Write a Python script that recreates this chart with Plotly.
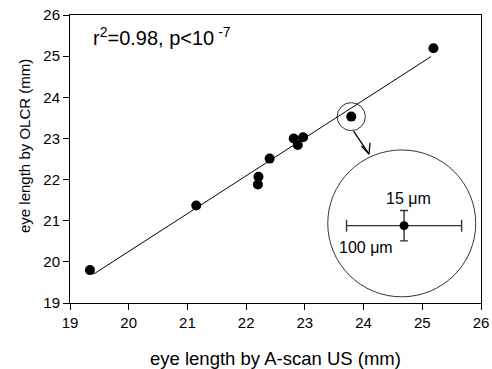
import plotly.graph_objects as go

# data
us_mm = [19.34, 21.15, 22.21, 22.20, 22.40, 22.81, 22.88, 22.97, 23.79, 25.19]
olcr_mm = [19.80, 21.37, 22.07, 21.88, 22.51, 23.00, 22.84, 23.03, 23.53, 25.19]
fit_x = [19.40, 25.15]
fit_y = [19.70, 24.99]
inset_x = [24.69]
inset_y = [20.88]
inset_err_x = [0.98]
inset_err_y = [0.37]
x_ticks = [19, 20, 21, 22, 23, 24, 25, 26]
y_ticks = [19, 20, 21, 22, 23, 24, 25, 26]

FONT = "Liberation Sans, Arial, sans-serif"

fig = go.Figure()
fig.add_trace(go.Scatter(x=fit_x, y=fit_y, mode="lines",
                         line=dict(color="black", width=1), showlegend=False))
fig.add_trace(go.Scatter(x=us_mm, y=olcr_mm, mode="markers",
                         marker=dict(color="black", size=10), showlegend=False))
fig.add_trace(go.Scatter(x=inset_x, y=inset_y, mode="markers",
                         marker=dict(color="black", size=9),
                         error_x=dict(type="data", array=inset_err_x, color="#333", thickness=1.4, width=6),
                         error_y=dict(type="data", array=inset_err_y, color="#333", thickness=1.4, width=4),
                         showlegend=False))

# highlight circle and zoom circle
fig.add_shape(type="circle", xref="x", yref="y", x0=23.55, x1=24.03, y0=23.19, y1=23.87,
              line=dict(color="black", width=0.8))
fig.add_shape(type="circle", xref="x", yref="y", x0=23.39, x1=25.91, y0=19.15, y1=22.72,
              line=dict(color="black", width=0.8))
# arrow (open V head)
fig.add_shape(type="line", xref="x", yref="y", x0=23.83, y0=23.18, x1=24.093, y1=22.62,
              line=dict(color="black", width=1.3))
fig.add_shape(type="line", xref="x", yref="y", x0=23.963, y0=22.816, x1=24.093, y1=22.62,
              line=dict(color="black", width=1.3))
fig.add_shape(type="line", xref="x", yref="y", x0=24.11, y0=22.896, x1=24.093, y1=22.62,
              line=dict(color="black", width=1.3))

fig.add_annotation(x=24.76, y=21.55, xref="x", yref="y", text="15 \u03bcm", showarrow=False,
                   font=dict(family=FONT, size=16, color="black"))
fig.add_annotation(x=24.04, y=20.36, xref="x", yref="y", text="100 \u03bcm", showarrow=False,
                   font=dict(family=FONT, size=16, color="black"))
fig.add_annotation(x=19.36, y=25.48, xref="x", yref="y", xanchor="left", yanchor="middle",
                   text="r<sup>2</sup>=0.98, p<10<sup> -7</sup>", showarrow=False,
                   font=dict(family=FONT, size=20, color="black"))
fig.add_annotation(x=-0.112, y=0.545, xref="paper", yref="paper", xanchor="center", yanchor="middle",
                   textangle=-90, text="eye length by OLCR (mm)", showarrow=False,
                   font=dict(family=FONT, size=15, color="black"))
fig.add_annotation(x=0.5, y=-0.191, xref="paper", yref="paper", xanchor="center", yanchor="middle",
                   text="eye length by A-scan US (mm)", showarrow=False,
                   font=dict(family=FONT, size=18.5, color="black"))

axis_common = dict(showgrid=False, zeroline=False, showline=True, linecolor="black", linewidth=1,
                   mirror=True, ticks="outside", ticklen=6, tickcolor="black", automargin=False,
                   tickfont=dict(family=FONT, size=15, color="black"))
fig.update_xaxes(range=[19, 26], tickvals=x_ticks, **axis_common)
fig.update_yaxes(range=[19, 26], tickvals=y_ticks, **axis_common)

fig.update_layout(width=492, height=369, margin=dict(l=70, r=11, t=15, b=66),
                  plot_bgcolor="white", paper_bgcolor="white",
                  font=dict(family=FONT, color="black"))
fig.write_html("out.html", config={"displayModeBar": False},
               post_script="document.body.style.margin='0px';document.body.style.overflow='hidden';")
